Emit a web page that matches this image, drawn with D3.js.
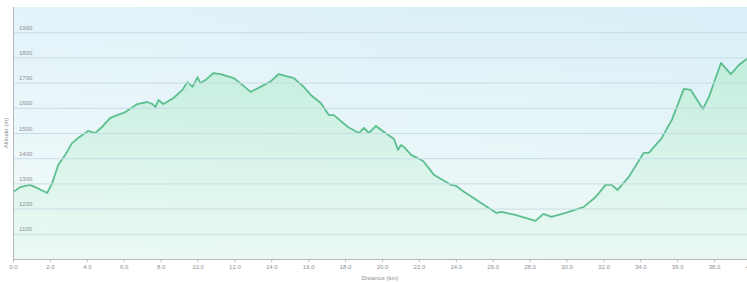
<!DOCTYPE html>
<html>
<head>
<meta charset="utf-8">
<script src="https://cdn.jsdelivr.net/npm/d3@7"></script>
<style>
  html, body { margin: 0; padding: 0; background: #ffffff; overflow: hidden; }
  svg { display: block; font-family: "Liberation Sans", Arial, sans-serif; }
</style>
</head>
<body>
<svg id="chart" width="747" height="282"></svg>
<script>
// Distance (km) along the route
const distanceKm = [0.0, 0.38, 0.92, 1.36, 1.85, 2.12, 2.45, 2.83, 3.2, 3.53, 4.07, 4.45, 4.84, 5.27, 5.65, 6.09, 6.74, 7.28, 7.55, 7.72, 7.88, 8.15, 8.7, 9.18, 9.46, 9.73, 10.0, 10.16, 10.43, 10.87, 11.25, 11.96, 12.45, 12.88, 13.59, 13.97, 14.4, 15.22, 15.76, 16.14, 16.68, 17.12, 17.39, 18.15, 18.75, 19.02, 19.29, 19.67, 20.11, 20.65, 20.87, 21.03, 21.2, 21.58, 22.23, 22.83, 23.75, 24.02, 24.46, 25.54, 26.2, 26.47, 27.23, 28.32, 28.75, 29.18, 29.95, 30.92, 31.58, 32.12, 32.45, 32.77, 33.37, 34.18, 34.46, 35.16, 35.71, 36.36, 36.74, 37.39, 37.72, 38.37, 38.91, 39.35, 39.9];
// Altitude (m) at each distance
const altitudeM = [1266, 1285, 1294, 1280, 1262, 1300, 1373, 1413, 1460, 1480, 1508, 1500, 1525, 1560, 1571, 1583, 1615, 1623, 1615, 1603, 1631, 1615, 1639, 1671, 1702, 1683, 1722, 1698, 1710, 1738, 1734, 1718, 1690, 1663, 1690, 1705, 1734, 1718, 1683, 1651, 1619, 1571, 1571, 1524, 1500, 1520, 1500, 1528, 1504, 1476, 1433, 1452, 1444, 1413, 1389, 1333, 1294, 1290, 1266, 1214, 1183, 1187, 1175, 1151, 1179, 1167, 1183, 1206, 1246, 1294, 1294, 1274, 1325, 1421, 1421, 1480, 1552, 1675, 1671, 1595, 1643, 1778, 1734, 1770, 1802];
// Axis ticks
const xTickValues = [0, 2, 4, 6, 8, 10, 12, 14, 16, 18, 20, 22, 24, 26, 28, 30, 32, 34, 36, 38, 40];
const yTickValues = [1100, 1200, 1300, 1400, 1500, 1600, 1700, 1800, 1900];
const xTitle = "Distance (km)";
const yTitle = "Altitude (m)";

const data = distanceKm.map((d, i) => ({ x: d, y: altitudeM[i] }));

const svg = d3.select("#chart");
const mLeft = 13, mRight = 751, mTop = 7, mBottom = 259;

const x = d3.scaleLinear().domain([0, 40]).range([mLeft, mRight]);
const y = d3.scaleLinear().domain([1000, 2000]).range([mBottom, mTop]);

const defs = svg.append("defs");
const bg = defs.append("linearGradient").attr("id", "bg").attr("x1", 0).attr("y1", 0).attr("x2", 0).attr("y2", 1);
bg.append("stop").attr("offset", "0%").attr("stop-color", "#d9eff8");
bg.append("stop").attr("offset", "55%").attr("stop-color", "#e6f5f8");
bg.append("stop").attr("offset", "100%").attr("stop-color", "#eefaf6");

const bgH = defs.append("linearGradient").attr("id", "bgH").attr("x1", 0).attr("y1", 0).attr("x2", 1).attr("y2", 0);
bgH.append("stop").attr("offset", "0%").attr("stop-color", "#ffffff").attr("stop-opacity", 0.25);
bgH.append("stop").attr("offset", "50%").attr("stop-color", "#ffffff").attr("stop-opacity", 0.1);
bgH.append("stop").attr("offset", "100%").attr("stop-color", "#ffffff").attr("stop-opacity", 0);

const areaGrad = defs.append("linearGradient").attr("id", "areaGrad").attr("gradientUnits", "userSpaceOnUse")
  .attr("x1", 0).attr("y1", y(1800)).attr("x2", 0).attr("y2", mBottom);
areaGrad.append("stop").attr("offset", "0%").attr("stop-color", "#b8ecd2").attr("stop-opacity", 0.75);
areaGrad.append("stop").attr("offset", "100%").attr("stop-color", "#e4f8ef").attr("stop-opacity", 0.5);

defs.append("clipPath").attr("id", "clip").append("rect")
  .attr("x", mLeft).attr("y", mTop).attr("width", mRight - mLeft).attr("height", mBottom - mTop);

// plot background
svg.append("rect").attr("x", mLeft).attr("y", mTop).attr("width", mRight - mLeft).attr("height", mBottom - mTop).attr("fill", "url(#bg)");
svg.append("rect").attr("x", mLeft).attr("y", mTop).attr("width", mRight - mLeft).attr("height", mBottom - mTop).attr("fill", "url(#bgH)");

const g = svg.append("g").attr("clip-path", "url(#clip)");

// area under the profile
g.append("path").datum(data)
  .attr("d", d3.area().x(d => x(d.x)).y0(mBottom).y1(d => y(d.y)))
  .attr("fill", "url(#areaGrad)");

// gridlines
const grid = svg.append("g").attr("transform", `translate(${mLeft},0)`)
  .call(d3.axisRight(y).tickValues(yTickValues).tickSize(mRight - mLeft).tickFormat(""));
grid.select(".domain").remove();
grid.selectAll(".tick line").attr("stroke", "#c9dde4").attr("stroke-width", 1);

// y labels inside plot, above the gridlines
svg.append("g").selectAll("text").data(yTickValues).join("text")
  .attr("x", mLeft + 6).attr("y", d => y(d) - 2.5)
  .attr("font-size", 6).attr("fill", "#8a8f94")
  .text(d => d);

// profile line
g.append("path").datum(data)
  .attr("d", d3.line().x(d => x(d.x)).y(d => y(d.y)))
  .attr("fill", "none").attr("stroke", "#5cbf8f").attr("stroke-width", 1.8)
  .attr("stroke-linejoin", "round");

// x axis
const xAxis = svg.append("g").attr("transform", `translate(0,${mBottom})`)
  .call(d3.axisBottom(x).tickValues(xTickValues).tickSize(3).tickPadding(3).tickFormat(d3.format(".1f")));
xAxis.select(".domain").attr("stroke", "#b4b8bb").attr("d", `M${mLeft},0.5H${mRight}`);
xAxis.selectAll(".tick line").attr("stroke", "#b4b8bb");
xAxis.selectAll(".tick text").attr("font-size", 6).attr("fill", "#8a8f94").attr("font-family", "Liberation Sans, Arial, sans-serif");

// y axis line
svg.append("line").attr("x1", mLeft + 0.5).attr("x2", mLeft + 0.5).attr("y1", mTop).attr("y2", mBottom)
  .attr("stroke", "#b4b8bb").attr("stroke-width", 1);

// titles
svg.append("text").attr("x", (mLeft + 747) / 2).attr("y", 280)
  .attr("text-anchor", "middle").attr("font-size", 6).attr("fill", "#8a8f94").text(xTitle);
svg.append("text").attr("transform", `translate(8,${(mTop + mBottom) / 2}) rotate(-90)`)
  .attr("text-anchor", "middle").attr("font-size", 6).attr("fill", "#8a8f94").text(yTitle);
</script>
</body>
</html>
